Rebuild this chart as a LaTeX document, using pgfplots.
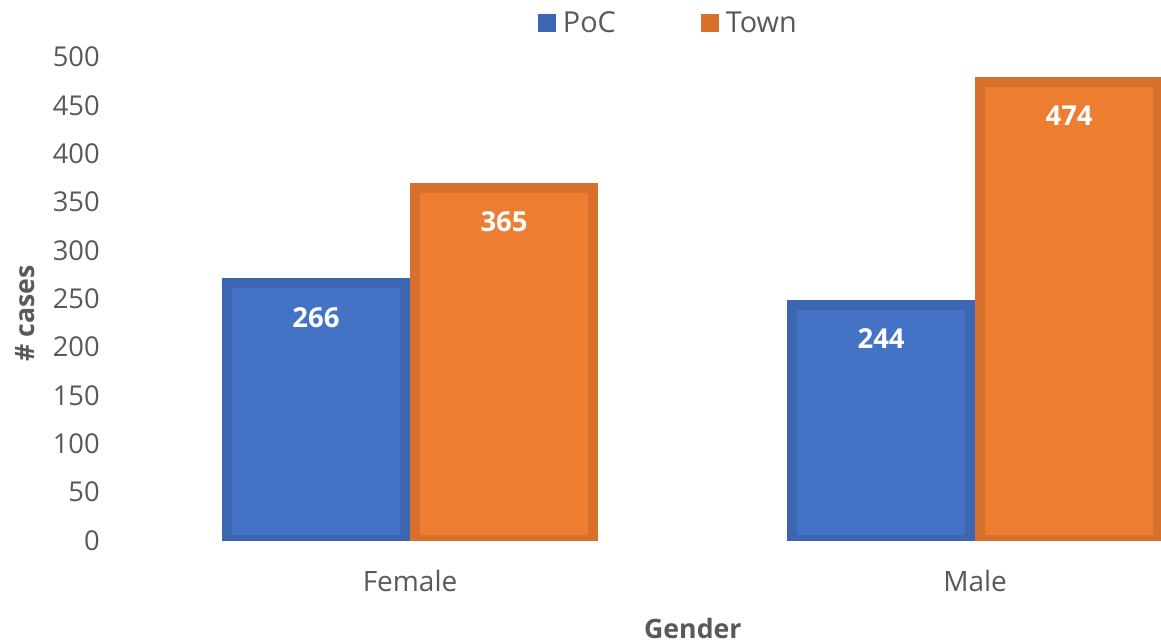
\documentclass[border=0pt]{standalone}
\usepackage{fontspec}
\setmainfont{Open Sans}
\usepackage{pgfplots}
\pgfplotsset{compat=1.18}
\definecolor{bfill}{HTML}{4472C4}
\definecolor{bline}{HTML}{3C66B1}
\definecolor{ofill}{HTML}{ED7D31}
\definecolor{oline}{HTML}{D6702C}
\definecolor{txt}{HTML}{595959}
\begin{document}
\begin{tikzpicture}
\begin{axis}[
  scale only axis,
  width=620pt, height=290pt,
  xmin=-0.5, xmax=1.329,
  ymin=0, ymax=500,
  ytick={0,50,...,500},
  xtick={0,1},
  xticklabels={Female,Male},
  axis line style={draw=none},
  tick style={draw=none},
  ybar=6pt,
  bar width=106.8pt,
  /pgf/number format/assume math mode=true,
  ticklabel style={font=\fontsize{16.4}{19}\selectfont, text=txt},
  yticklabel style={anchor=east, inner sep=0pt, xshift=-16.5pt},
  xticklabel style={anchor=center, inner sep=0pt, yshift=-20pt, font=\fontsize{16.8}{19}\selectfont},
  xlabel={\textbf{Gender}},
  ylabel={\textbf{\# cases}},
  label style={font=\fontsize{16}{19}\selectfont, text=txt},
  xlabel style={at={(rel axis cs:0.547,-0.182)}, anchor=center},
  ylabel style={at={(rel axis cs:-0.099,0.47)}, anchor=center, rotate=0},
  nodes near coords,
  every node near coord/.append style={anchor=center, yshift=-20.4pt, font=\bfseries\fontsize{16.5}{19}\selectfont, text=white},
  legend style={at={(0.524,1.07)}, anchor=center, draw=none, fill=none, legend columns=2,
    font=\fontsize{17.3}{19}\selectfont, text=txt,
    /tikz/every even column/.append style={column sep=49pt}},
]
\addplot[fill=bfill, draw=bline, line width=6pt,
  legend image code/.code={\path[draw=none, fill=bline, line width=0pt] (0pt,-5.4pt) rectangle (10.8pt,5.4pt); \path[draw=none, fill=none, line width=0pt] (0pt,0pt) -- (13pt,0pt);}]
  coordinates {(0,266) (1,244)};
\addlegendentry{PoC}
\addplot[fill=ofill, draw=oline, line width=6pt,
  legend image code/.code={\path[draw=none, fill=oline, line width=0pt] (0pt,-5.4pt) rectangle (10.8pt,5.4pt); \path[draw=none, fill=none, line width=0pt] (0pt,0pt) -- (13pt,0pt);}]
  coordinates {(0,365) (1,474)};
\addlegendentry{Town}
\coordinate (bl) at (rel axis cs:-0.1234,-0.2112);
\coordinate (tr) at (rel axis cs:1,1.118);
\end{axis}
\pgfresetboundingbox
\useasboundingbox (bl) rectangle (tr);
\end{tikzpicture}
\end{document}
